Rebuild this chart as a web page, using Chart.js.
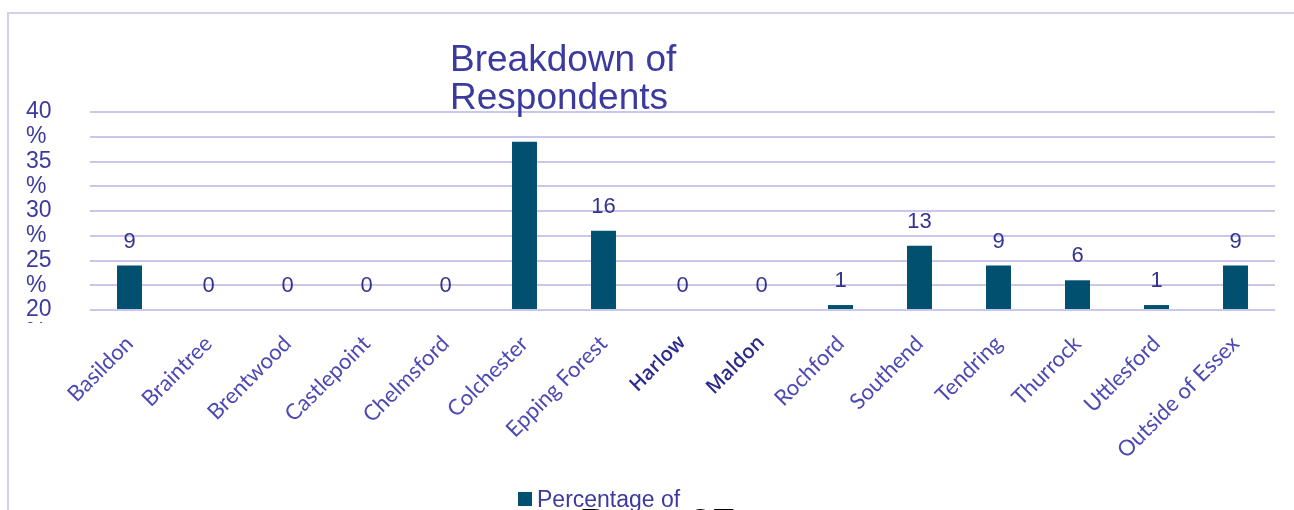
<!DOCTYPE html>
<html>
<head>
<meta charset="utf-8">
<script src="https://cdn.jsdelivr.net/npm/chart.js@4"></script>
<style>
  html, body { margin: 0; padding: 0; background: #ffffff; overflow: hidden; }
  canvas { display: block; }
</style>
</head>
<body>
<canvas id="chart" width="1294" height="510"></canvas>
<script>
// Respondents by district (percentage)
const categories = ['Basildon', 'Braintree', 'Brentwood', 'Castlepoint', 'Chelmsford', 'Colchester',
  'Epping Forest', 'Harlow', 'Maldon', 'Rochford', 'Southend', 'Tendring', 'Thurrock', 'Uttlesford',
  'Outside of Essex'];
const percentages = [9, 0, 0, 0, 0, 34, 16, 0, 0, 1, 13, 9, 6, 1, 9];
const unlabelled = ['Colchester'];
const darkerLabels = ['Harlow', 'Maldon'];
const yTickLabels = ['40 %', '35 %', '30 %', '25 %', '20 %'];
const seriesName = 'Percentage of';
const titleLines = ['Breakdown of', 'Respondents'];
const footerText = 'Page 37';

const BAR = '#02506f';
const INK = '#3b3a9e';
const GRID = '#cbc7ea';

// the axis labels wrap onto two lines, one line per gridline
const yTokens = yTickLabels.flatMap(t => t.split(' '));

const framePlugin = {
  id: 'frame',
  beforeDraw(chart) {
    const ctx = chart.ctx;
    ctx.save();
    ctx.strokeStyle = '#d3d0ef';
    ctx.lineWidth = 2;
    ctx.beginPath();
    ctx.moveTo(8, 510);
    ctx.lineTo(8, 13);
    ctx.lineTo(1294, 13);
    ctx.stroke();
    ctx.restore();
  }
};

const valueLabelPlugin = {
  id: 'valueLabels',
  afterDatasetsDraw(chart) {
    const ctx = chart.ctx;
    const meta = chart.getDatasetMeta(0);
    const data = chart.data.datasets[0].data;
    ctx.save();
    ctx.font = '22px "Liberation Sans", Arial, sans-serif';
    ctx.fillStyle = '#34338f';
    ctx.textAlign = 'center';
    ctx.textBaseline = 'middle';
    meta.data.forEach((bar, i) => {
      if (unlabelled.includes(chart.data.labels[i])) return;
      ctx.fillText(String(data[i]), bar.x, bar.y - 24);
    });
    ctx.restore();
  }
};

const headingPlugin = {
  id: 'headings',
  afterDraw(chart) {
    const ctx = chart.ctx;
    ctx.save();
    // title
    ctx.font = '37px "Liberation Sans", Arial, sans-serif';
    ctx.fillStyle = INK;
    ctx.textAlign = 'left';
    ctx.textBaseline = 'alphabetic';
    titleLines.forEach((line, i) => ctx.fillText(line, 450, 71 + i * 38));
    // the wrapped "%" of the lowest axis label, clipped just under the axis
    ctx.save();
    ctx.beginPath();
    ctx.rect(0, 0, 90, 323);
    ctx.clip();
    ctx.font = '23px "Liberation Sans", Arial, sans-serif';
    ctx.textBaseline = 'middle';
    ctx.fillText(yTokens[yTokens.length - 1], 26, 333);
    ctx.restore();
    // legend
    const ds = chart.data.datasets[0];
    ctx.fillStyle = ds.backgroundColor;
    ctx.fillRect(518, 492, 14, 14);
    ctx.font = '23px "Liberation Sans", Arial, sans-serif';
    ctx.fillStyle = INK;
    ctx.fillText(ds.label, 537, 507);
    // page footer running under the chart
    ctx.font = '42px "Liberation Sans", Arial, sans-serif';
    ctx.fillStyle = '#000000';
    ctx.fillText(footerText, 579, 538);
    ctx.restore();
  }
};

new Chart(document.getElementById('chart'), {
  type: 'bar',
  data: {
    labels: categories,
    datasets: [{
      label: seriesName,
      data: percentages,
      backgroundColor: BAR,
      borderWidth: 0,
      categoryPercentage: 1,
      barPercentage: 0.316
    }]
  },
  options: {
    responsive: false,
    animation: false,
    layout: { padding: { left: 26, right: 19, top: 112, bottom: 0 } },
    plugins: {
      legend: { display: false },
      title: { display: false },
      tooltip: { enabled: false }
    },
    scales: {
      x: {
        grid: { display: false },
        border: { display: false },
        afterFit(scale) { scale.height = 200; },
        ticks: {
          autoSkip: false,
          maxRotation: 45,
          minRotation: 45,
          padding: 15,
          color: ctx => darkerLabels.includes(categories[ctx.index]) ? '#2c2a8a' : '#4d49b4',
          font: ctx => darkerLabels.includes(categories[ctx.index])
            ? { family: '"Open Sans", Lato, sans-serif', size: 20, weight: '600', lineHeight: 0.9 }
            : { family: 'Lato, "Open Sans", sans-serif', size: 22, weight: 'normal', lineHeight: 0.9 }
        }
      },
      y: {
        min: 0,
        max: 40,
        afterFit(scale) { scale.width = 64; },
        border: { display: false },
        grid: { color: GRID, lineWidth: 2, drawTicks: false },
        ticks: {
          stepSize: 5,
          autoSkip: false,
          crossAlign: 'far',
          color: INK,
          font: { family: '"Liberation Sans", Arial, sans-serif', size: 23, lineHeight: 1.0 },
          callback(value, index, ticks) {
            const k = ticks.length - 1 - index;
            return yTokens[k] !== undefined ? yTokens[k] : '';
          }
        }
      }
    }
  },
  plugins: [framePlugin, valueLabelPlugin, headingPlugin]
});
</script>
</body>
</html>
